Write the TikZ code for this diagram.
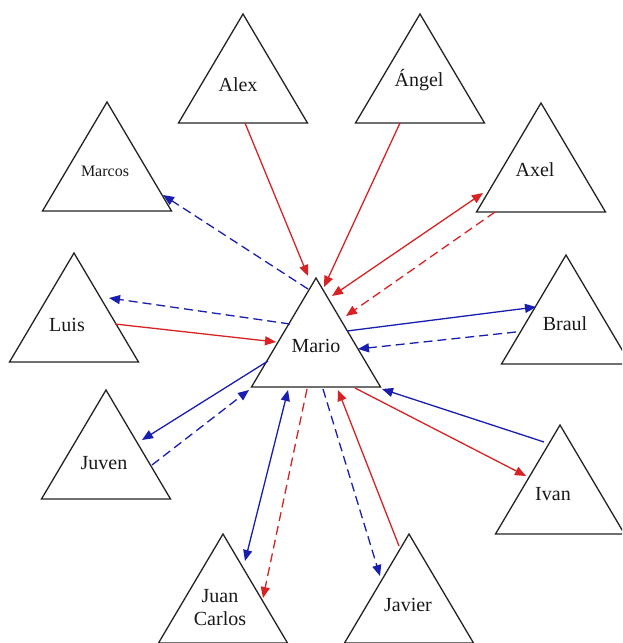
\documentclass[tikz,border=0pt]{standalone}
\usepackage{fontspec}
\setmainfont{Liberation Serif}
\usetikzlibrary{arrows.meta}
\definecolor{linkred}{RGB}{215,35,35}
\definecolor{linkblue}{RGB}{25,30,175}
\definecolor{outline}{RGB}{35,35,35}
\newcommand\persontri[1]{\draw[person] (#1) -- ++(-64.5,109) -- ++(129,0) -- cycle;}
\begin{document}
\begin{tikzpicture}[x=1pt,y=-1pt,
  person/.style={draw=outline, line width=1.3pt, line join=miter},
  whotext/.style={font=\fontsize{20}{23}\selectfont, text=black!90, align=center, inner sep=0pt},
  smalltext/.style={font=\fontsize{16}{19}\selectfont},
  link/.style={line width=1.3pt, -{Triangle[length=11pt,width=9pt]}},
  both/.style={line width=1.3pt, {Triangle[length=11pt,width=9pt]}-{Triangle[length=11pt,width=9pt]}},
  dashedlink/.style={dash pattern=on 9pt off 5pt}
]
\useasboundingbox (0,0) rectangle (622,643);
\clip (0,0) rectangle (622,643);

% apex of each triangle
\coordinate (alex-top)   at (243,14);
\coordinate (angel-top)  at (420,14);
\coordinate (marcos-top) at (107,102);
\coordinate (axel-top)   at (541,103);
\coordinate (luis-top)   at (74,253);
\coordinate (mario-top)  at (316,278);
\coordinate (braul-top)  at (566,255);
\coordinate (juven-top)  at (106,390);
\coordinate (ivan-top)   at (560,425);
\coordinate (juan-top)   at (223,534);
\coordinate (javier-top) at (409,534);

\foreach \p in {alex,angel,marcos,axel,luis,mario,braul,juven,ivan,juan,javier}
  {\persontri{\p-top}}

% names
\node[whotext] (alex)   at (238,85)  {Alex};
\node[whotext] (angel)  at (419,80)  {Ángel};
\node[whotext,smalltext] (marcos) at (105,171) {Marcos};
\node[whotext] (axel)   at (535,170) {Axel};
\node[whotext] (luis)   at (67,325)  {Luis};
\node[whotext] (mario)  at (316,346) {Mario};
\node[whotext] (braul)  at (565,324) {Braul};
\node[whotext] (juven)  at (104,463) {Juven};
\node[whotext] (ivan)   at (553,494) {Ivan};
\node[whotext] (juan)   at (220,608) {Juan\\Carlos};
\node[whotext] (javier) at (408,605) {Javier};

% connector end points on the triangle edges
\coordinate (alex-out)   at (245,123);
\coordinate (mario-alex) at (308,276);
\coordinate (angel-out)  at (400,123);
\coordinate (mario-angel) at (324,287);
\coordinate (mario-axel1) at (332,296);
\coordinate (axel-in1)   at (483,193);
\coordinate (axel-out2)  at (495,212);
\coordinate (mario-axel2) at (346,316);
\coordinate (mario-braul1) at (347,331);
\coordinate (braul-in1)  at (536,307);
\coordinate (braul-out2) at (516,332);
\coordinate (mario-braul2) at (358,349);
\coordinate (ivan-out)   at (544,442);
\coordinate (mario-ivan1) at (382,389);
\coordinate (mario-ivan2) at (355,388);
\coordinate (ivan-in)    at (526,476);
\coordinate (javier-out) at (399,546);
\coordinate (mario-javier1) at (338,390);
\coordinate (mario-javier2) at (323,389);
\coordinate (javier-in)  at (380,576);
\coordinate (mario-juan1) at (307,389);
\coordinate (juan-in1)   at (263,598);
\coordinate (mario-juan2) at (288,390);
\coordinate (juan-in2)   at (245,561);
\coordinate (juven-out)  at (152,465);
\coordinate (mario-juven1) at (249,390);
\coordinate (mario-juven2) at (268,361);
\coordinate (juven-in)   at (142,440);
\coordinate (luis-out)   at (115,324);
\coordinate (mario-luis1) at (276,342);
\coordinate (mario-luis2) at (290,324);
\coordinate (luis-in)    at (109,298);
\coordinate (mario-marcos) at (308,289);
\coordinate (marcos-in)  at (163,195);

% red links
\draw[link, linkred] (alex-out) -- (mario-alex);
\draw[link, linkred] (angel-out) -- (mario-angel);
\draw[both, linkred] (mario-axel1) -- (axel-in1);
\draw[link, linkred, dashedlink] (axel-out2) -- (mario-axel2);
\draw[link, linkred] (mario-ivan2) -- (ivan-in);
\draw[link, linkred] (javier-out) -- (mario-javier1);
\draw[link, linkred, dashedlink] (mario-juan1) -- (juan-in1);
\draw[link, linkred] (luis-out) -- (mario-luis1);

% blue links
\draw[link, linkblue] (mario-braul1) -- (braul-in1);
\draw[link, linkblue, dashedlink] (braul-out2) -- (mario-braul2);
\draw[link, linkblue] (ivan-out) -- (mario-ivan1);
\draw[link, linkblue, dashedlink] (mario-javier2) -- (javier-in);
\draw[both, linkblue] (mario-juan2) -- (juan-in2);
\draw[link, linkblue, dashedlink] (juven-out) -- (mario-juven1);
\draw[link, linkblue] (mario-juven2) -- (juven-in);
\draw[link, linkblue, dashedlink] (mario-luis2) -- (luis-in);
\draw[link, linkblue, dashedlink] (mario-marcos) -- (marcos-in);
\end{tikzpicture}
\end{document}
